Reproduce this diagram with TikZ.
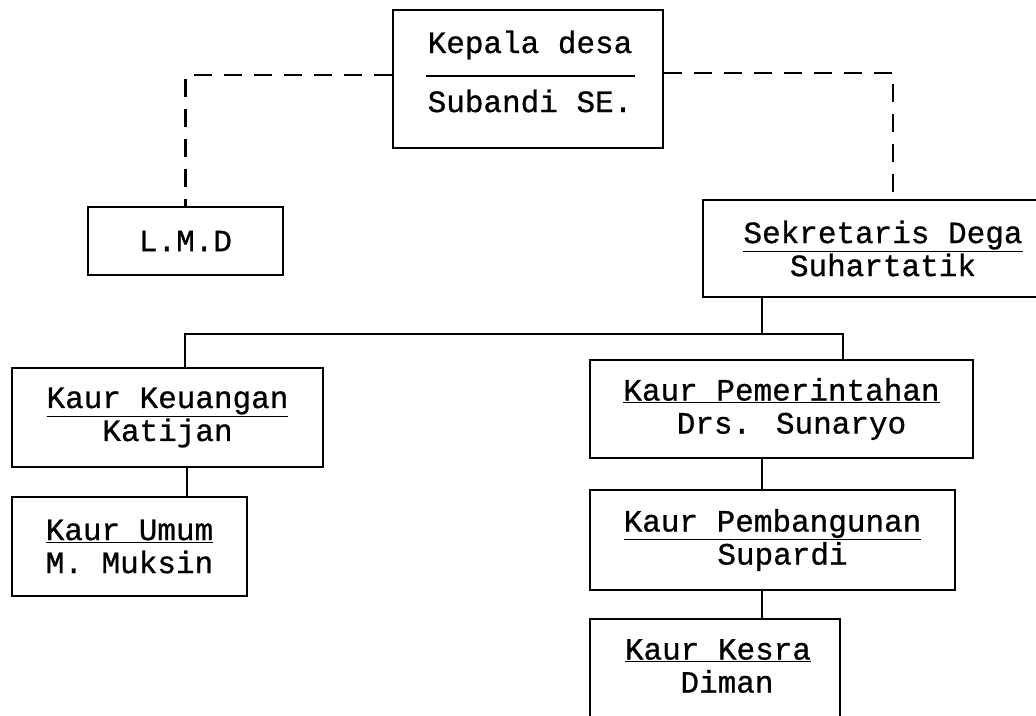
\documentclass[tikz,border=0pt]{standalone}
\usepackage{fontspec}
\newfontfamily\typfont[FakeBold=0.8]{Liberation Mono}
\begin{document}
\begin{tikzpicture}[x=1pt,y=-1pt,
  box/.style={draw, line width=2.8pt, inner sep=0pt, align=center,
    font=\typfont\fontsize{31}{33}\selectfont},
  lbl/.style={inner sep=0pt, align=center, font=\typfont\fontsize{31}{33}\selectfont},
  conn/.style={line width=2.2pt},
  dconn/.style={line width=2.4pt, dash pattern=on 18pt off 12pt}]
\useasboundingbox (0,0) rectangle (1036,715);
\fill[white] (0,0) rectangle (1036,715);
% Kepala desa
\node[box, minimum width=270pt, minimum height=138pt] (kd) at (528,79) {};
\node[lbl] (kdt) at (530,45) {Kepala desa};
\node[lbl] (kds) at (530,101) {Subandi SE.};
\coordinate (dvl) at (426,76);
\coordinate (dvr) at (635,76);
\draw[conn] (dvl) -- (dvr);
% LMD
\node[box, minimum width=195pt, minimum height=68pt] (lmd) at (185.5,241) {L.M.D};
% Sekretaris
\node[box, minimum width=360pt, minimum height=97pt] (sek) at (883,248.5)
  {\underline{Sekretaris Dega}\\Suhartatik};
\coordinate (dx) at (893,0);
\draw[dconn] ([yshift=4pt]kd.west) -| (lmd.north);
\draw[dconn] ([yshift=6pt]kd.east) -| (sek.north -| dx);
% Kaur boxes
\node[box, minimum width=311pt, minimum height=99pt] (kk) at (167.5,417.5)
  {\underline{Kaur Keuangan}\\Katijan};
\node[box, minimum width=235pt, minimum height=99pt] (ku) at (129.5,546.5)
  {\underline{Kaur Umum}\\M. Muksin};
\node[box, minimum width=383pt, minimum height=98pt] (kp) at (781.5,409)
  {\underline{Kaur Pemerintahan}\\\hspace*{20pt}Drs. Sunaryo};
\node[box, minimum width=365pt, minimum height=100pt] (kb) at (772.5,540)
  {\underline{Kaur Pembangunan}\\\hspace*{20pt}Supardi};
\node[box, minimum width=250pt, minimum height=130pt] (ks) at (715,684) {};
\node[lbl] (kst) at (718,666) {\underline{Kaur Kesra}\\\hspace*{18pt}Diman};
% connectors
\coordinate (j1) at (762,334);
\coordinate (hl) at (185,334);
\coordinate (hr) at (843,334);
\coordinate (vl) at (187,0);
\draw[conn] (sek.south -| j1) -- (j1);
\draw[conn] (hl |- kk.north) -- (hl) -- (hr) -- (hr |- kp.north);
\draw[conn] (kk.south -| vl) -- (ku.north -| vl);
\draw[conn] (kp.south -| j1) -- (kb.north -| j1);
\draw[conn] (kb.south -| j1) -- (ks.north -| j1);
\end{tikzpicture}
\end{document}
